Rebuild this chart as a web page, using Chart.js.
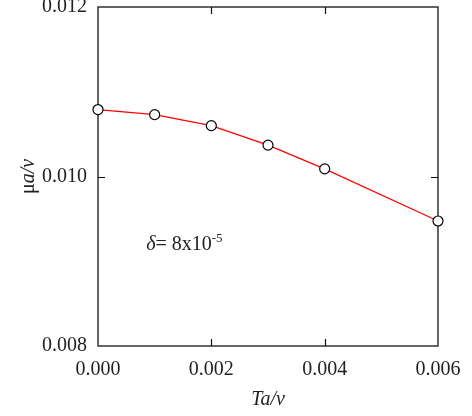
<!DOCTYPE html>
<html>
<head>
<meta charset="utf-8">
<script src="https://cdn.jsdelivr.net/npm/chart.js@4"></script>
<style>
html,body{margin:0;padding:0;background:#fff;}
#wrap{width:472px;height:416px;position:relative;}
</style>
</head>
<body>
<div id="wrap"><canvas id="c" width="472" height="416"></canvas></div>
<script>
// Data
const taOverNu = [0.000, 0.001, 0.002, 0.003, 0.004, 0.006];
const muAOverNu = [0.01079, 0.01073, 0.01060, 0.01037, 0.01009, 0.009475];
const xTicks = [0.000, 0.002, 0.004, 0.006];
const yTicks = [0.008, 0.010, 0.012];
const xTitle = [{t: 'Ta/v', style: 'italic'}];
const yTitle = [{t: 'μ', style: 'normal'}, {t: 'a/v', style: 'italic'}];
const annotation = [{t: 'δ', style: 'italic', size: 20}, {t: '= 8x10', style: 'normal', size: 20}, {t: '-5', style: 'normal', size: 13, raise: 8}];
const annotationAt = {x: 0.00085, y: 0.00913};

const FONT = '"Liberation Serif", "Times New Roman", serif';

function drawSegments(ctx, segs, x, y, defSize, align) {
  let total = 0;
  segs.forEach(s => {
    ctx.font = s.style + ' ' + (s.size || defSize) + 'px ' + FONT;
    total += ctx.measureText(s.t).width;
  });
  let cx = align === 'center' ? x - total / 2 : x;
  segs.forEach(s => {
    ctx.font = s.style + ' ' + (s.size || defSize) + 'px ' + FONT;
    ctx.fillText(s.t, cx, y - (s.raise || 0));
    cx += ctx.measureText(s.t).width;
  });
}

const framePlugin = {
  id: 'frame',
  beforeDatasetsDraw(chart) {
    const {ctx, chartArea: a, scales} = chart;
    ctx.save();
    ctx.strokeStyle = '#333';
    ctx.lineWidth = 1.5;
    ctx.strokeRect(a.left, a.top, a.right - a.left, a.bottom - a.top);
    ctx.lineWidth = 1.2;
    ctx.strokeStyle = '#111';
    const tl = 7;
    ctx.beginPath();
    xTicks.forEach(v => {
      const px = Math.round(scales.x.getPixelForValue(v)) + 0.5;
      if (px > a.left + 2 && px < a.right - 2) {
        ctx.moveTo(px, a.bottom); ctx.lineTo(px, a.bottom - tl);
        ctx.moveTo(px, a.top); ctx.lineTo(px, a.top + tl);
      }
    });
    yTicks.forEach(v => {
      const py = Math.round(scales.y.getPixelForValue(v)) + 0.5;
      if (py > a.top + 2 && py < a.bottom - 2) {
        ctx.moveTo(a.left, py); ctx.lineTo(a.left + tl, py);
        ctx.moveTo(a.right, py); ctx.lineTo(a.right - tl, py);
      }
    });
    ctx.stroke();
    ctx.restore();
  },
  afterDraw(chart) {
    const {ctx, chartArea: a, scales} = chart;
    ctx.save();
    ctx.fillStyle = '#222';
    ctx.textBaseline = 'alphabetic';
    // x title
    drawSegments(ctx, xTitle, (a.left + a.right) / 2, 405, 20, 'center');
    // y title
    ctx.translate(34, (a.top + a.bottom) / 2);
    ctx.rotate(-Math.PI / 2);
    drawSegments(ctx, yTitle, 0, 0, 20, 'center');
    ctx.setTransform(1, 0, 0, 1, 0, 0);
    // annotation
    const ax = scales.x.getPixelForValue(annotationAt.x);
    const ay = scales.y.getPixelForValue(annotationAt.y);
    drawSegments(ctx, annotation, ax, ay, 20, 'left');
    ctx.restore();
  }
};

new Chart(document.getElementById('c'), {
  type: 'line',
  data: {
    datasets: [{
      data: taOverNu.map((x, i) => ({x: x, y: muAOverNu[i]})),
      borderColor: '#ff0000',
      borderWidth: 1.2,
      pointRadius: 5,
      pointBackgroundColor: '#ffffff',
      pointBorderColor: '#000000',
      pointBorderWidth: 1.2,
      tension: 0,
      clip: false
    }]
  },
  options: {
    responsive: false,
    animation: false,
    devicePixelRatio: 1,
    layout: {padding: {top: 7, right: 34, left: 0, bottom: 0}},
    plugins: {legend: {display: false}, tooltip: {enabled: false}},
    scales: {
      x: {
        type: 'linear',
        min: 0, max: 0.006,
        afterBuildTicks(s) { s.ticks = xTicks.map(v => ({value: v})); },
        afterFit(s) { s.height = 70; s.paddingLeft = 0; s.paddingRight = 0; },
        grid: {display: false, drawTicks: false},
        border: {display: false},
        ticks: {
          padding: 12,
          color: '#222',
          font: {family: FONT, size: 20},
          maxRotation: 0,
          callback: v => v.toFixed(3)
        }
      },
      y: {
        type: 'linear',
        min: 0.008, max: 0.012,
        afterBuildTicks(s) { s.ticks = yTicks.map(v => ({value: v})); },
        afterFit(s) { s.width = 98; s.paddingTop = 0; s.paddingBottom = 0; },
        grid: {display: false, drawTicks: false},
        border: {display: false},
        ticks: {
          padding: 11,
          color: '#222',
          font: {family: FONT, size: 20},
          callback: v => v.toFixed(3)
        }
      }
    }
  },
  plugins: [framePlugin]
});
</script>
</body>
</html>
